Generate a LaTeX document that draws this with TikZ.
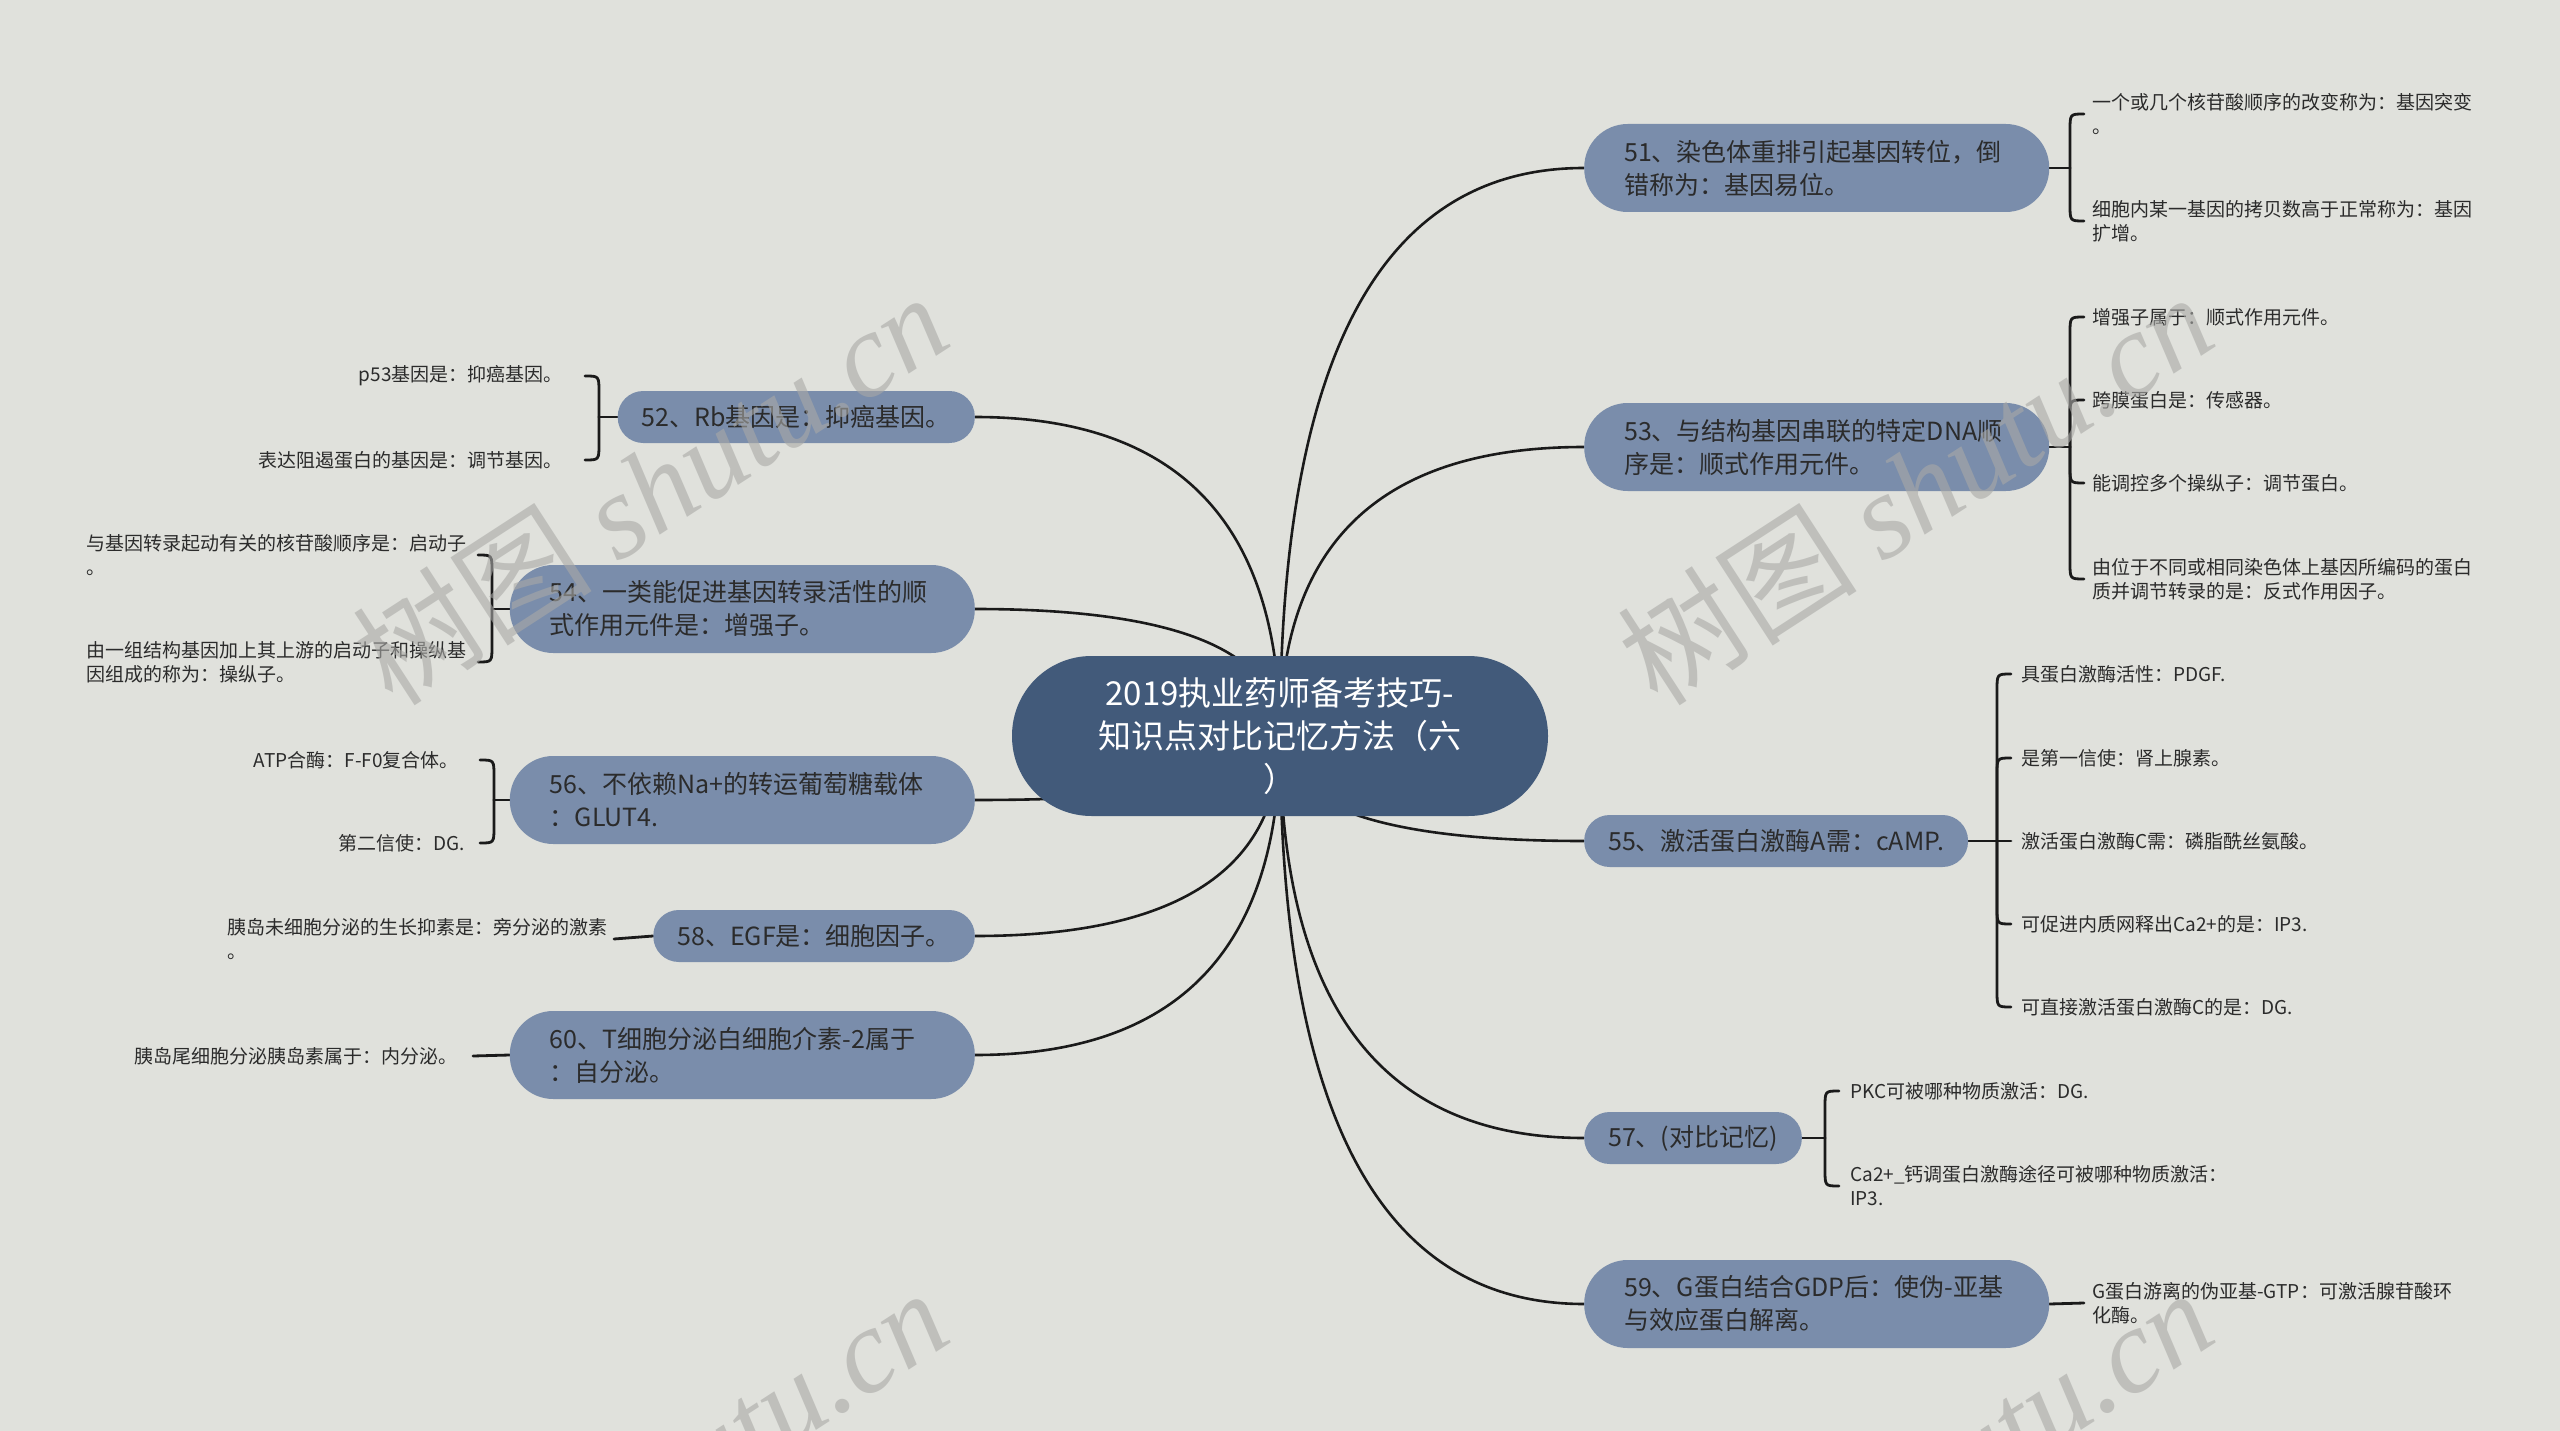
\documentclass[tikz,border=0pt]{standalone}
\usepackage{fontspec}
\setmainfont{Noto Sans CJK SC}
\newfontfamily\wmlatin{Liberation Serif}
\usetikzlibrary{calc,backgrounds}
\definecolor{bgc}{HTML}{E0E1DC}
\definecolor{rootc}{HTML}{425A7A}
\definecolor{brc}{HTML}{7A8DAB}
\definecolor{txc}{HTML}{2B2B2B}
\definecolor{lnc}{HTML}{1A1A1A}
\definecolor{wmc}{HTML}{A9A9A6}
\newcommand\braceR[3]{\draw[brace] (#1) -- ($(#1 |- #2.west)+(0,#3*16)$) .. controls (#1 |- #2.west) .. ($(#1 |- #2.west)+(14,0)$);}
\newcommand\braceL[3]{\draw[brace] (#1) -- ($(#1 |- #2.east)+(0,#3*16)$) .. controls (#1 |- #2.east) .. ($(#1 |- #2.east)+(-14,0)$);}
\begin{document}
\begin{tikzpicture}[x=1pt,y=-1pt,
 rootbox/.style={fill=rootc, text=white, rounded corners=79.5pt, minimum width=536pt, minimum height=160pt, align=center, font=\fontsize{33}{43}\selectfont, inner sep=0pt},
 twobox/.style={fill=brc, text=txc, rounded corners=43.5pt, minimum height=88pt, text width=385pt, inner xsep=40pt, inner ysep=0pt, align=left, font=\fontsize{25}{33}\selectfont},
 onebox/.style={fill=brc, text=txc, rounded corners=25.5pt, minimum height=52pt, inner xsep=24pt, inner ysep=0pt, font=\fontsize{25}{33}\selectfont},
 leafr/.style={anchor=west, text=txc, inner xsep=3pt, inner ysep=2pt, align=left, font=\fontsize{19}{24}\selectfont},
 leafl/.style={anchor=east, text=txc, inner xsep=3pt, inner ysep=2pt, align=left, font=\fontsize{19}{24}\selectfont},
 conn/.style={draw=lnc, line width=2.6pt},
 brace/.style={draw=lnc, line width=2.8pt, line cap=round},
 wm/.style={anchor=base, rotate=33, text=wmc, opacity=0.6, inner sep=0pt, font=\fontsize{120}{120}\selectfont}
]
\useasboundingbox (0,0) rectangle (2560,1431);
% root
\node[rootbox] (root) at (1280,736) {2019执业药师备考技巧-\\知识点对比记忆方法（六\\）};
% branches right
\node[twobox, anchor=west] (b51) at (1584,168) {51、染色体重排引起基因转位，倒\\错称为：基因易位。};
\node[twobox, anchor=west] (b53) at (1584,447) {53、与结构基因串联的特定DNA顺\\序是：顺式作用元件。};
\node[onebox, anchor=west] (b55) at (1584,841) {55、激活蛋白激酶A需：cAMP.};
\node[onebox, anchor=west] (b57) at (1584,1138) {57、(对比记忆)};
\node[twobox, anchor=west] (b59) at (1584,1304) {59、G蛋白结合GDP后：使伪-亚基\\与效应蛋白解离。};
% branches left
\node[onebox, anchor=east] (b52) at (975,417) {52、Rb基因是：抑癌基因。};
\node[twobox, anchor=east] (b54) at (975,609) {54、一类能促进基因转录活性的顺\\式作用元件是：增强子。};
\node[twobox, anchor=east] (b56) at (975,800) {56、不依赖Na+的转运葡萄糖载体\\：GLUT4.};
\node[onebox, anchor=east] (b58) at (975,936) {58、EGF是：细胞因子。};
\node[twobox, anchor=east] (b60) at (975,1055) {60、T细胞分泌白细胞介素-2属于\\：自分泌。};
% hubs
\coordinate (h51) at (2070,168);
\coordinate (h53) at (2070,447);
\coordinate (h55) at (1997,841);
\coordinate (h57) at (1825,1138);
\coordinate (h52) at (599,417);
\coordinate (h54) at (492,609);
\coordinate (h56) at (494,800);
% leaves right
\node[leafr] (l51a) at (2089,114) {一个或几个核苷酸顺序的改变称为：基因突变\\。};
\node[leafr] (l51b) at (2089,221) {细胞内某一基因的拷贝数高于正常称为：基因\\扩增。};
\node[leafr] (l53a) at (2089,317) {增强子属于：顺式作用元件。};
\node[leafr] (l53b) at (2089,400) {跨膜蛋白是：传感器。};
\node[leafr] (l53c) at (2089,483) {能调控多个操纵子：调节蛋白。};
\node[leafr] (l53d) at (2089,579) {由位于不同或相同染色体上基因所编码的蛋白\\质并调节转录的是：反式作用因子。};
\node[leafr] (l55a) at (2018,674) {具蛋白激酶活性：PDGF.};
\node[leafr] (l55b) at (2018,758) {是第一信使：肾上腺素。};
\node[leafr] (l55c) at (2018,841) {激活蛋白激酶C需：磷脂酰丝氨酸。};
\node[leafr] (l55d) at (2018,924) {可促进内质网释出Ca2+的是：IP3.};
\node[leafr] (l55e) at (2018,1007) {可直接激活蛋白激酶C的是：DG.};
\node[leafr] (l57a) at (1847,1091) {PKC可被哪种物质激活：DG.};
\node[leafr] (l57b) at (1847,1186) {Ca2+\_钙调蛋白激酶途径可被哪种物质激活：\\IP3.};
\node[leafr] (l59) at (2089,1303) {G蛋白游离的伪亚基-GTP：可激活腺苷酸环\\化酶。};
% leaves left
\node[leafl] (l52a) at (566,376) {p53基因是：抑癌基因。};
\node[leafl] (l52b) at (566,460) {表达阻遏蛋白的基因是：调节基因。};
\node[leafl] (l54a) at (470,555) {与基因转录起动有关的核苷酸顺序是：启动子\\。};
\node[leafl] (l54b) at (470,662) {由一组结构基因加上其上游的启动子和操纵基\\因组成的称为：操纵子。};
\node[leafl] (l56a) at (462,760) {ATP合酶：F-F0复合体。};
\node[leafl] (l56b) at (468,843) {第二信使：DG.};
\node[leafl] (l58) at (611,939) {胰岛未细胞分泌的生长抑素是：旁分泌的激素\\。};
\node[leafl] (l60) at (461,1056) {胰岛尾细胞分泌胰岛素属于：内分泌。};
% connectors
\begin{scope}[on background layer]
\fill[bgc] (0,0) rectangle (2560,1431);
\draw[conn] (root.center) .. controls +(0,-379) and +(-203,0) .. (b51.west);
\draw[conn] (root.center) .. controls +(0,-193) and +(-203,0) .. (b53.west);
\draw[conn] (root.center) .. controls +(0,70) and +(-203,0) .. (b55.west);
\draw[conn] (root.center) .. controls +(0,268) and +(-203,0) .. (b57.west);
\draw[conn] (root.center) .. controls +(0,379) and +(-203,0) .. (b59.west);
\draw[conn] (root.center) .. controls +(0,-213) and +(203,0) .. (b52.east);
\draw[conn] (root.center) .. controls +(0,-85) and +(203,0) .. (b54.east);
\draw[conn] (root.center) .. controls +(0,43) and +(203,0) .. (b56.east);
\draw[conn] (root.center) .. controls +(0,133) and +(203,0) .. (b58.east);
\draw[conn] (root.center) .. controls +(0,213) and +(203,0) .. (b60.east);
% braces right
\draw[brace] (b51.east) -- (h51);
\braceR{h51}{l51a}{1}
\braceR{h51}{l51b}{-1}
\draw[brace] (b53.east) -- (h53);
\braceR{h53}{l53a}{1}
\braceR{h53}{l53b}{1}
\braceR{h53}{l53c}{-1}
\braceR{h53}{l53d}{-1}
\draw[brace] (b55.east) -- ($(h55)+(14,0)$);
\braceR{h55}{l55a}{1}
\braceR{h55}{l55b}{1}
\braceR{h55}{l55d}{-1}
\braceR{h55}{l55e}{-1}
\draw[brace] (b57.east) -- (h57);
\braceR{h57}{l57a}{1}
\braceR{h57}{l57b}{-1}
\draw[brace] (b59.east) -- ($(l59.west)+(-5,0)$);
% braces left
\draw[brace] (b52.west) -- (h52);
\braceL{h52}{l52a}{1}
\braceL{h52}{l52b}{-1}
\draw[brace] (b54.west) -- (h54);
\braceL{h54}{l54a}{1}
\braceL{h54}{l54b}{-1}
\draw[brace] (b56.west) -- (h56);
\braceL{h56}{l56a}{1}
\braceL{h56}{l56b}{-1}
\draw[brace] (b58.west) -- ($(l58.east)+(3,0)$);
\draw[brace] (b60.west) -- ($(l60.east)+(12,0)$);
\end{scope}
% watermarks
\begin{scope}
\clip (0,0) rectangle (2560,1431);
\node[wm] (wm1) at (675,526) {树图 {\wmlatin\itshape shutu.cn}};
\node[wm] (wm2) at (1940,526) {树图 {\wmlatin\itshape shutu.cn}};
\node[wm] (wm3) at (675,1522) {树图 {\wmlatin\itshape shutu.cn}};
\node[wm] (wm4) at (1940,1522) {树图 {\wmlatin\itshape shutu.cn}};
\end{scope}
\end{tikzpicture}
\end{document}
